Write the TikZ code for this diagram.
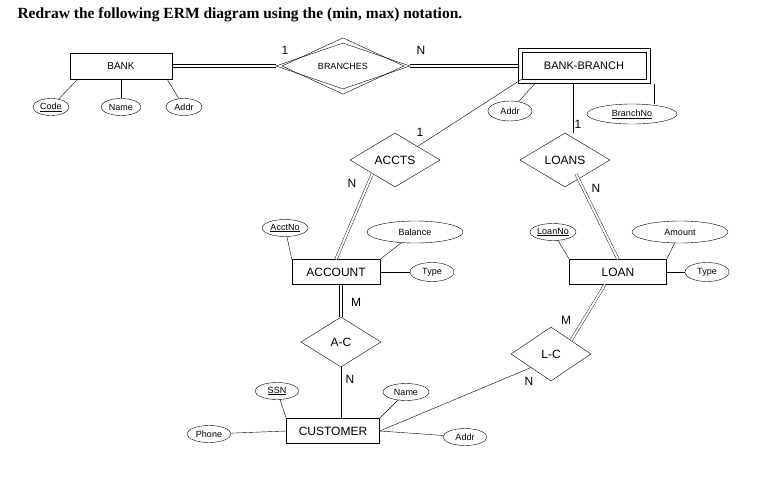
\documentclass[tikz,border=0pt]{standalone}
\usepackage{fontspec}
\setmainfont{Liberation Sans}
\newfontfamily\titlefont{Liberation Serif}
\usetikzlibrary{shapes.geometric}
\begin{document}
\begin{tikzpicture}[x=1pt,y=-1pt,
  ent/.style={draw,minimum width=#1,minimum height=25pt,inner sep=0pt,font=\fontsize{12}{12}\selectfont},
  ent/.default=90pt,
  att/.style={draw,ellipse,minimum width=#1,minimum height=17pt,inner sep=0pt,font=\fontsize{9}{9}\selectfont},
  att/.default=36pt,
  dbl/.style={double,double distance=2pt},
  lab/.style={font=\fontsize{12}{12}\selectfont}]
\useasboundingbox (0,0) rectangle (772,477);
\node[anchor=west,font=\titlefont\bfseries\fontsize{15.5}{16}\selectfont] (title) at (14,15) {Redraw the following ERM diagram using the (min, max) notation.};
% entities
\node[ent=102pt,minimum height=26pt,font=\fontsize{10}{10}\selectfont] (bank) at (121,66) {BANK};
\node[draw,minimum width=132pt,minimum height=35pt] (bbo) at (584,66) {};
\node[draw,minimum width=124pt,minimum height=27pt,font=\fontsize{11}{11}\selectfont] (bb) at (584,66) {BANK-BRANCH};
\node[ent=88pt] (acc) at (336,272) {ACCOUNT};
\node[ent=97pt] (loan) at (618,272) {LOAN};
\node[ent=93pt] (cust) at (333,431) {CUSTOMER};
% relationships
\node[draw,diamond,minimum width=134pt,minimum height=46pt,inner sep=0pt] (bro) at (343,66) {};
\node[draw,diamond,minimum width=122pt,minimum height=38pt,inner sep=0pt,font=\fontsize{9}{9}\selectfont] (br) at (343,66) {BRANCHES};
\node[draw,diamond,minimum width=90pt,minimum height=54pt,inner sep=0pt,font=\fontsize{12}{12}\selectfont] (accts) at (395,160) {ACCTS};
\node[draw,diamond,minimum width=90pt,minimum height=54pt,inner sep=0pt,font=\fontsize{12}{12}\selectfont] (loans) at (565,160) {LOANS};
\node[draw,diamond,minimum width=80pt,minimum height=50pt,inner sep=0pt,font=\fontsize{12}{12}\selectfont] (ac) at (341,342) {A-C};
\node[draw,diamond,minimum width=80pt,minimum height=54pt,inner sep=0pt,font=\fontsize{12}{12}\selectfont] (lc) at (551,354) {L-C};
% attributes
\node[att=36pt] (bcode) at (51,107) {\underline{Code}};
\node[att=40pt] (bname) at (121,107) {Name};
\node[att=36pt] (baddr) at (184,107) {Addr};
\node[att=44pt,minimum height=20pt] (bbaddr) at (510,111) {Addr};
\node[att=90pt,minimum height=20pt] (bbno) at (632,114) {\underline{BranchNo}};
\node[att=46pt] (acctno) at (285,228) {\underline{AcctNo}};
\node[att=96pt,minimum height=22pt] (bal) at (415,232) {Balance};
\node[att=44pt,minimum height=19pt] (atype) at (432,272) {Type};
\node[att=46pt] (loanno) at (553,232) {\underline{LoanNo}};
\node[att=96pt,minimum height=22pt] (amt) at (680,232) {Amount};
\node[att=44pt,minimum height=19pt] (ltype) at (707,272) {Type};
\node[att=44pt] (ssn) at (277,391) {\underline{SSN}};
\node[att=46pt] (cname) at (406,392) {Name};
\node[att=44pt] (phone) at (209,434) {Phone};
\node[att=44pt] (caddr) at (465,437) {Addr};
% coordinates
\coordinate (b1) at (78,79); \coordinate (b2) at (121,79); \coordinate (b3) at (167,79);
\coordinate (bb1) at (535,83.5); \coordinate (bb2) at (573,83.5); \coordinate (bb3) at (654,83.5);
\coordinate (bb4) at (522,79);
\coordinate (acb) at (341,284.5);
\coordinate (lsw) at (576,174);
\coordinate (lbs) at (605,284.5);
% connectors
\draw ([yshift=1.5pt]bank.east) -- ([yshift=1.5pt]bro.west);
\draw ([yshift=-1.5pt]bank.east) -- ([yshift=-1.5pt]bro.west);
\draw ([yshift=1.5pt]bro.east) -- ([yshift=1.5pt]bbo.west);
\draw ([yshift=-1.5pt]bro.east) -- ([yshift=-1.5pt]bbo.west);
\draw (b1) -- (bcode); \draw (b2) -- (bname); \draw (b3) -- (baddr);
\draw (bb1) -- (bbaddr); \draw (bb3) -- (bbno.north -| bb3);
\draw (bb4) -- (accts.north east);
\draw (bb2) -- (loans.north -| bb2);
\draw[dbl] (accts.south west) -- (acc.north);
\draw[dbl] (lsw) -- (loan.north);
\draw (acctno) -- (acc.north west);
\draw (bal) -- (acc.north east);
\draw (acc.east) -- (atype);
\draw (loanno) -- (loan.north west);
\draw (amt) -- (loan.north east);
\draw (loan.east) -- (ltype);
\draw ([xshift=-1.5pt]acb) -- ([xshift=-1.5pt]ac.north);
\draw ([xshift=1.5pt]acb) -- ([xshift=1.5pt]ac.north);
\draw (ac.south) -- (cust.north -| ac.south);
\draw[dbl] (lbs) -- (lc.north east);
\draw (lc.south west) -- (cust.east);
\draw (ssn) -- (cust.north west);
\draw (cname) -- (cust.north east);
\draw (phone) -- (cust.west);
\draw (cust.east) -- (caddr);
% labels
\node[lab] (l1) at (285,50) {1};
\node[lab] (l2) at (421,50) {N};
\node[lab] (l3) at (420,132) {1};
\node[lab] (l4) at (578,124) {1};
\node[lab] (l5) at (352,183) {N};
\node[lab] (l6) at (596,188) {N};
\node[lab] (l7) at (356,302) {M};
\node[lab] (l8) at (350,379) {N};
\node[lab] (l9) at (566,320) {M};
\node[lab] (l10) at (529,381) {N};
\end{tikzpicture}
\end{document}
